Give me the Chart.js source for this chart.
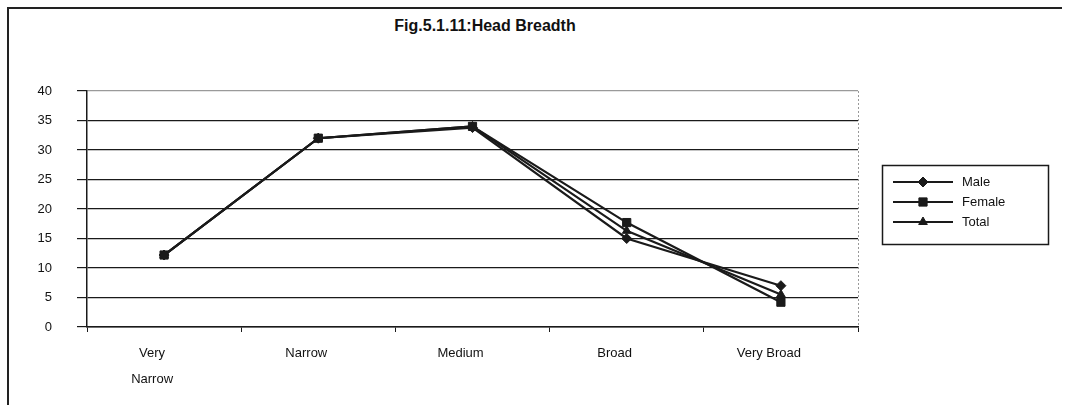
<!DOCTYPE html>
<html>
<head>
<meta charset="utf-8">
<title>Head Breadth</title>
<script src="https://cdn.jsdelivr.net/npm/chart.js@4.4.1/dist/chart.umd.min.js"></script>
<style>
  html, body { margin: 0; padding: 0; background: #fff; overflow: hidden; width: 1066px; height: 405px; }
  #wrap { position: relative; width: 1066px; height: 405px; overflow: hidden; }
  .edge { position: absolute; background: #222; }
  #edgeTop { left: 7px; top: 7px; width: 1055px; height: 2px; }
  #edgeLeft { left: 7px; top: 7px; width: 2px; height: 398px; }
  #title {
    position: absolute; left: 0; top: 17px; width: 970px; text-align: center;
    font: bold 16px "Liberation Sans", Arial, sans-serif; color: #111;
  }
  canvas { position: absolute; left: 0; top: 0; }
</style>
</head>
<body>
<div id="wrap">
  <div class="edge" id="edgeTop"></div>
  <div class="edge" id="edgeLeft"></div>
  <div id="title">Fig.5.1.11:Head Breadth</div>
  <canvas id="chart" width="1066" height="405"></canvas>
</div>

<script>
/* ================= DATA ================= */
const categories = [["Very", "Narrow"], "Narrow", "Medium", "Broad", "Very Broad"];
const male   = [12.2, 32, 33.8, 15.0, 7.0];
const female = [12.2, 32, 34.0, 17.7, 4.2];
const total  = [12.2, 32, 34.0, 16.3, 5.5];
const yTicks = [0, 5, 10, 15, 20, 25, 30, 35, 40];

const FONT = '"Liberation Sans", Arial, sans-serif';
const INK = "#1a1a1a";

function series(label, data, style, radius) {
  return {
    label, data,
    borderColor: INK, backgroundColor: INK, borderWidth: 2.2,
    pointStyle: style, pointRadius: radius, pointHoverRadius: radius,
    pointBackgroundColor: INK, pointBorderColor: INK, pointBorderWidth: 1,
    tension: 0
  };
}

/* ================= PLUGINS ================= */
// dotted plot-area edge on the right
const plotEdge = {
  id: "plotEdge",
  beforeDatasetsDraw(chart) {
    const { ctx, chartArea: a } = chart;
    ctx.save();
    ctx.strokeStyle = "#999";
    ctx.lineWidth = 1;
    ctx.setLineDash([2, 2]);
    ctx.beginPath();
    ctx.moveTo(a.right + 0.5, a.top);
    ctx.lineTo(a.right + 0.5, a.bottom);
    ctx.stroke();
    ctx.restore();
  }
};

// boxed legend, line sample with marker in the middle
const boxLegend = {
  id: "boxLegend",
  afterDraw(chart) {
    const ctx = chart.ctx;
    ctx.save();
    ctx.strokeStyle = INK;
    ctx.lineWidth = 1.5;
    ctx.strokeRect(882.5, 165.5, 166, 79);

    ctx.font = "13px " + FONT;
    ctx.textBaseline = "middle";
    chart.data.datasets.forEach((ds, i) => {
      const y = 182 + i * 20;
      ctx.strokeStyle = INK;
      ctx.lineWidth = 2;
      ctx.beginPath();
      ctx.moveTo(893, y);
      ctx.lineTo(953, y);
      ctx.stroke();
      ctx.fillStyle = INK;
      ctx.lineWidth = 1;
      Chart.helpers.drawPoint(ctx, { pointStyle: ds.pointStyle, radius: ds.pointRadius, borderWidth: 1 }, 923, y);
      ctx.fillStyle = "#111";
      ctx.fillText(ds.label, 962, y);
    });
    ctx.restore();
  }
};

/* ================= CHART ================= */
new Chart(document.getElementById("chart"), {
  type: "line",
  data: {
    labels: categories,
    datasets: [
      series("Male", male, "rectRot", 5),
      series("Female", female, "rect", 5.8),
      series("Total", total, "triangle", 5)
    ]
  },
  options: {
    responsive: false,
    animation: false,
    layout: { padding: { left: 10, right: 208, top: 91, bottom: 0 } },
    plugins: {
      legend: { display: false },
      title: { display: false },
      tooltip: { enabled: false }
    },
    scales: {
      x: {
        offset: true,
        grid: { offset: true, drawOnChartArea: false, drawTicks: true, tickLength: 5, tickColor: INK },
        border: { color: INK, width: 1.5 },
        ticks: {
          color: "#111", font: { family: FONT, size: 13, lineHeight: 1.95 },
          padding: 9, labelOffset: -12, maxRotation: 0, autoSkip: false
        },
        afterFit: s => { s.height = 78; }
      },
      y: {
        min: 0, max: 40,
        afterBuildTicks: s => { s.ticks = yTicks.map(v => ({ value: v })); },
        grid: {
          color: c => (c.tick && c.tick.value === 40 ? "#9a9a9a" : INK),
          lineWidth: 1.2, tickLength: 10, tickColor: INK
        },
        border: { color: INK, width: 1.5 },
        ticks: { color: "#111", font: { family: FONT, size: 13 }, padding: 25 },
        afterFit: s => { s.width = 77; }
      }
    }
  },
  plugins: [plotEdge, boxLegend]
});
</script>
</body>
</html>
